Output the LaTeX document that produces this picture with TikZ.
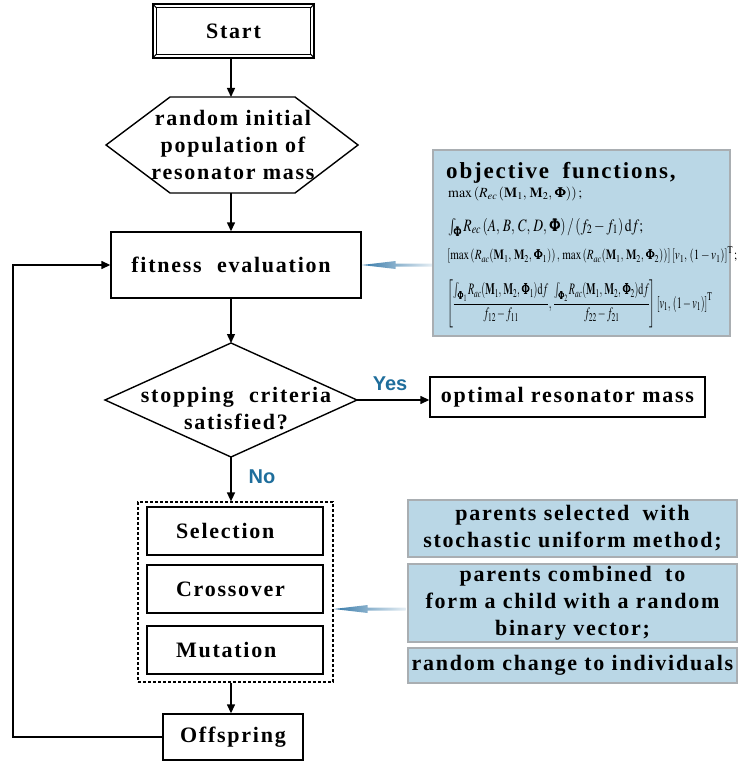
\documentclass[tikz,border=0pt]{standalone}
\usepackage{amsmath}
\usepackage{mathptmx}
\usepackage{graphicx}
\usepackage[no-math]{fontspec}
\setmainfont{Liberation Serif}[LetterSpace=8]
\newfontfamily\yesfont{Liberation Sans}
\usetikzlibrary{arrows.meta,calc}
\definecolor{boxblue}{HTML}{BAD7E6}
\definecolor{boxedge}{HTML}{A9AEB2}
\definecolor{lblblue}{HTML}{1F6E9C}
\definecolor{arrblue}{HTML}{3478A8}
\begin{document}
\begin{tikzpicture}[x=1pt,y=-1pt,
  every node/.style={font=\bfseries\fontsize{22}{27}\selectfont},
  box/.style={draw, line width=1.4pt, inner sep=0pt, align=center},
  arr/.style={-{Triangle[length=9pt,width=8pt]}, line width=1.4pt},
  ln/.style={line width=1.4pt, line join=miter},
  bluebox/.style={draw=boxedge, fill=boxblue, line width=1.8pt, inner sep=0pt, align=center},
  lbl/.style={text=lblblue, font=\yesfont\bfseries\fontsize{20}{24}\selectfont},
  stage/.style={box, minimum width=176pt, minimum height=48pt, inner xsep=29pt, text width=118pt, align=left},
  pointer/.style={left color=arrblue, right color=arrblue!12},
  formula/.style={anchor=west, inner sep=0pt}
]
\useasboundingbox (0,0) rectangle (739,762);
\coordinate (spine) at (231,0);
\coordinate (loopx) at (13,0);

% Start
\node[box, minimum width=161pt, minimum height=54pt] (start) at (233.5,31) {Start};
\draw[line width=1.2pt] ([shift={(4pt,-4.5pt)}]start.north west) rectangle ([shift={(-4pt,4.5pt)}]start.south east);
\draw[line width=1pt] (start.north west) -- ++(4pt,-4.5pt)
  (start.north east) -- ++(-4pt,-4.5pt)
  (start.south west) -- ++(4pt,4.5pt)
  (start.south east) -- ++(-4pt,4.5pt);

% hexagon
\coordinate (hL) at (106,145);
\coordinate (hTL) at (170,97);
\coordinate (hTR) at (295,97);
\coordinate (hR) at (358,145);
\coordinate (hBR) at (295,193);
\coordinate (hBL) at (170,193);
\draw[ln] (hL) -- (hTL) -- (hTR) -- (hR) -- (hBR) -- (hBL) -- cycle;
\node[align=center, inner sep=0pt] (hex) at (233,145) {random initial\\population of\\resonator mass};

% fitness
\node[box, minimum width=250pt, minimum height=66pt] (fit) at (236,265) {fitness\hspace{8pt} evaluation\hspace{10pt}};

% diamond
\coordinate (dT) at (231,343);
\coordinate (dR) at (357,400);
\coordinate (dB) at (231,457);
\coordinate (dL) at (105,400);
\draw[ln] (dT) -- (dR) -- (dB) -- (dL) -- cycle;
\node[align=center, inner sep=0pt] (dtext) at (236,409) {stopping\hspace{8pt} criteria\\satisfied?};

\node[box, minimum width=275pt, minimum height=40pt] (opt) at (567.5,397) {optimal resonator mass};
\node[lbl] (yes) at (390,384) {Yes};
\node[lbl] (no) at (262,477) {No};

% GA operators
\node[draw, densely dashed, line width=1.2pt, minimum width=195pt, minimum height=180pt, inner sep=0pt] (grp) at (235.5,592) {};
\node[stage] (sel) at (235,531) {Selection};
\node[stage] (cro) at (235,589) {Crossover};
\node[stage] (mut) at (235,650) {Mutation};
\node[box, minimum width=140pt, minimum height=46pt] (off) at (233,737) {Offspring};

% connectors
\draw[arr] (start.south -| spine) -- (hTL -| spine);
\draw[arr] (hBL -| spine) -- (fit.north -| spine);
\draw[arr] (fit.south -| spine) -- (dT);
\draw[arr] (dR) -- (dR -| opt.west);
\draw[arr] (dB) -- (grp.north -| spine);
\draw[arr] (grp.south -| spine) -- (off.north -| spine);
\draw[arr] (off.west) -- (off.west -| loopx) -- (fit.west -| loopx) -- (fit.west);

% pointers
\coordinate (p2) at ([yshift=-17pt]grp.east);
\shade[pointer] (fit.east) -- ++(34pt,4pt) -- ++(0,-2.5pt) -- ++(37pt,0) -- ++(0,-3pt) -- ++(-37pt,0) -- ++(0,-2.5pt) -- cycle;
\shade[pointer] (p2) -- ++(34pt,4pt) -- ++(0,-2.5pt) -- ++(38pt,0) -- ++(0,-3pt) -- ++(-38pt,0) -- ++(0,-2.5pt) -- cycle;

% objective box
\node[bluebox, minimum width=297pt, minimum height=186pt] (obj) at (581.5,243) {};
\node[anchor=west, inner sep=0pt] (objt) at (446,173) {\fontsize{23}{27}\selectfont objective\hspace{6pt} functions,};
\node[formula] (f1) at (448,194) {\resizebox*{134pt}{14pt}{$\max\left(R_{ec}\left(\mathbf{M}_1,\,\mathbf{M}_2,\,\pmb{\Phi}\right)\right);$}};
\node[formula] (f2) at (448,227) {\resizebox*{195pt}{18pt}{$\int_{\pmb{\Phi}} R_{ec}\left(A,\,B,\,C,\,D,\,\pmb{\Phi}\right)/\left(f_2-f_1\right)\mathrm{d}f;$}};
\node[formula] (f3) at (447,255) {\resizebox*{290pt}{17pt}{$\left[\max\left(R_{ac}(\mathbf{M}_1,\,\mathbf{M}_2,\,\pmb{\Phi}_1)\right),\,\max\left(R_{ac}(\mathbf{M}_1,\,\mathbf{M}_2,\,\pmb{\Phi}_2)\right)\right]\left[v_1,\,(1-v_1)\right]^{\mathrm{T}};$}};
\node[formula] (f4) at (447,304) {\resizebox*{265pt}{48pt}{$\left[\dfrac{\int_{\pmb{\Phi}_1} R_{ac}(\mathbf{M}_1,\,\mathbf{M}_2,\,\pmb{\Phi}_1)\mathrm{d}f}{f_{12}-f_{11}},\,\dfrac{\int_{\pmb{\Phi}_2} R_{ac}(\mathbf{M}_1,\,\mathbf{M}_2,\,\pmb{\Phi}_2)\mathrm{d}f}{f_{22}-f_{21}}\right]\left[v_1,\,(1-v_1)\right]^{\mathrm{T}}$}};

% operator descriptions
\node[bluebox, minimum width=329pt, minimum height=57pt] (b1) at (572.5,528.5) {parents selected\hspace{6pt} with\\stochastic uniform method;};
\node[bluebox, minimum width=329pt, minimum height=78pt] (b2) at (572.5,603) {parents combined\hspace{6pt} to\\form a child with a random\\binary vector;};
\node[bluebox, minimum width=329pt, minimum height=35pt] (b3) at (572.5,665.5) {random change to individuals};
\end{tikzpicture}
\end{document}
